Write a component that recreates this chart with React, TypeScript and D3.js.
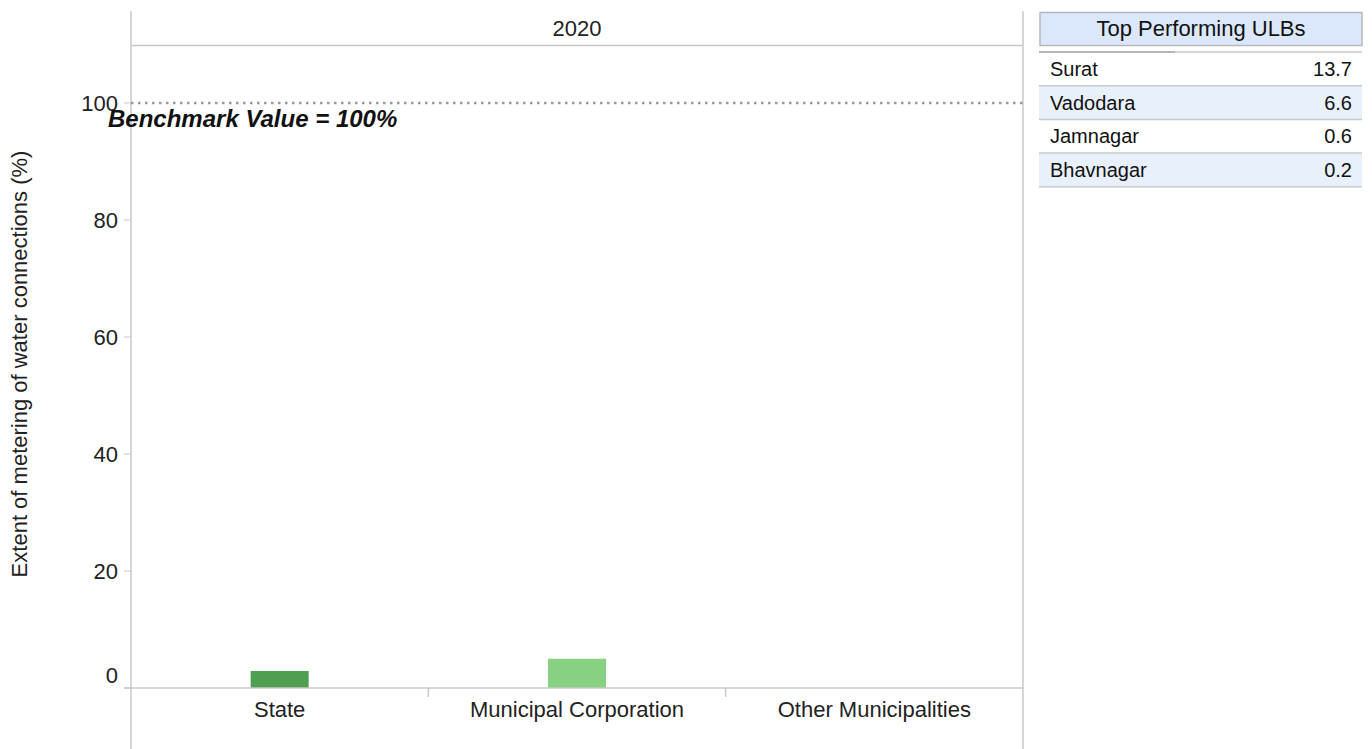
import React from "react";
import * as d3 from "d3";

const categories = ["State", "Municipal Corporation", "Other Municipalities"];
const values: (number | null)[] = [2.9, 5.0, null];
const barColors = ["#4e9f50", "#87d180", "#87d180"];
const yTicks = [0, 20, 40, 60, 80, 100];
const yearLabel = "2020";
const benchmark = 100;
const tableNames = ["Surat", "Vadodara", "Jamnagar", "Bhavnagar"];
const tableValues = [13.7, 6.6, 0.6, 0.2];

const W = 1372;
const H = 749;
const FONT = "'Liberation Sans', Arial, sans-serif";

export default function App() {
  const left = 131;
  const right = 1023;
  const y = d3.scaleLinear().domain([0, 100]).range([688, 103]);
  const x = d3.scaleBand().domain(categories).range([left, right]).paddingInner(0).paddingOuter(0);
  const barW = 58;
  const rowH = 33.7;
  const tX0 = 1039;
  const tX1 = 1362;

  return (
    <svg width={W} height={H} style={{ position: "absolute", left: 0, top: 0, fontFamily: FONT }}>
      <rect x={0} y={0} width={W} height={H} fill="#fff" />
      {/* frame lines */}
      <line x1={left} x2={left} y1={11} y2={H} stroke="#c8c8c8" strokeWidth={1.5} />
      <line x1={right} x2={right} y1={11} y2={H} stroke="#c8c8c8" strokeWidth={1.5} />
      <line x1={left} x2={right} y1={45.5} y2={45.5} stroke="#c8c8c8" strokeWidth={1.5} />
      <text x={(left + right) / 2} y={36} textAnchor="middle" fontSize={22} fill="#222">{yearLabel}</text>

      {/* y axis ticks */}
      {yTicks.map((t) => (
        <g key={t}>
          <line x1={124} x2={left} y1={y(t)} y2={y(t)} stroke="#c8c8c8" strokeWidth={1} />
          <text x={118} y={t === 0 ? y(t) - 5 : y(t) + 8} textAnchor="end" fontSize={22} fill="#222">{t}</text>
        </g>
      ))}
      <text transform={`translate(27,${364}) rotate(-90)`} textAnchor="middle" fontSize={22} fill="#222">
        Extent of metering of water connections (%)
      </text>

      {/* benchmark */}
      <line x1={left} x2={right} y1={y(benchmark)} y2={y(benchmark)} stroke="#999" strokeWidth={2.5} strokeDasharray="2.5,4.5" />
      <text x={108} y={127} fontSize={24} fontWeight="bold" fontStyle="italic" fill="#111">
        Benchmark Value = 100%
      </text>

      {/* bars */}
      {categories.map((c, i) => {
        const v = values[i];
        if (v == null) return null;
        const cx = (x(c) as number) + x.bandwidth() / 2;
        return (
          <rect key={c} x={cx - barW / 2} y={y(v)} width={barW} height={y(0) - y(v)} fill={barColors[i]} />
        );
      })}

      {/* baseline */}
      <line x1={124} x2={right} y1={y(0)} y2={y(0)} stroke="#c8c8c8" strokeWidth={1.5} />
      {categories.slice(1).map((c) => (
        <line key={c} x1={x(c) as number} x2={x(c) as number} y1={y(0)} y2={y(0) + 9} stroke="#c8c8c8" strokeWidth={1.5} />
      ))}
      {categories.map((c) => (
        <text key={c} x={(x(c) as number) + x.bandwidth() / 2} y={717} textAnchor="middle" fontSize={22} fill="#222">
          {c}
        </text>
      ))}

      {/* table */}
      <rect x={1040} y={12.5} width={322} height={33} fill="#dbe8fb" stroke="#b8b8b8" strokeWidth={1.5} />
      <text x={(1040 + 1362) / 2} y={36} textAnchor="middle" fontSize={22} fill="#111">Top Performing ULBs</text>
      {tableNames.map((n, i) => {
        const ry = 52 + i * rowH;
        return (
          <g key={n}>
            <rect x={tX0} y={ry} width={tX1 - tX0} height={rowH} fill={i % 2 === 1 ? "#e8f0fc" : "#fff"} />
            <line x1={tX0} x2={tX1} y1={ry} y2={ry} stroke="#c8c8c8" strokeWidth={1.5} />
            <text x={1050} y={ry + 24} fontSize={20} fill="#111">{n}</text>
            <text x={1352} y={ry + 24} textAnchor="end" fontSize={20} fill="#111">{tableValues[i].toFixed(1)}</text>
          </g>
        );
      })}
      <line x1={tX0} x2={tX1} y1={52 + 4 * rowH} y2={52 + 4 * rowH} stroke="#c8c8c8" strokeWidth={1.5} />
      <line x1={tX0} x2={1175} y1={52} y2={52} stroke="#aaa" strokeWidth={1.5} />
    </svg>
  );
}
